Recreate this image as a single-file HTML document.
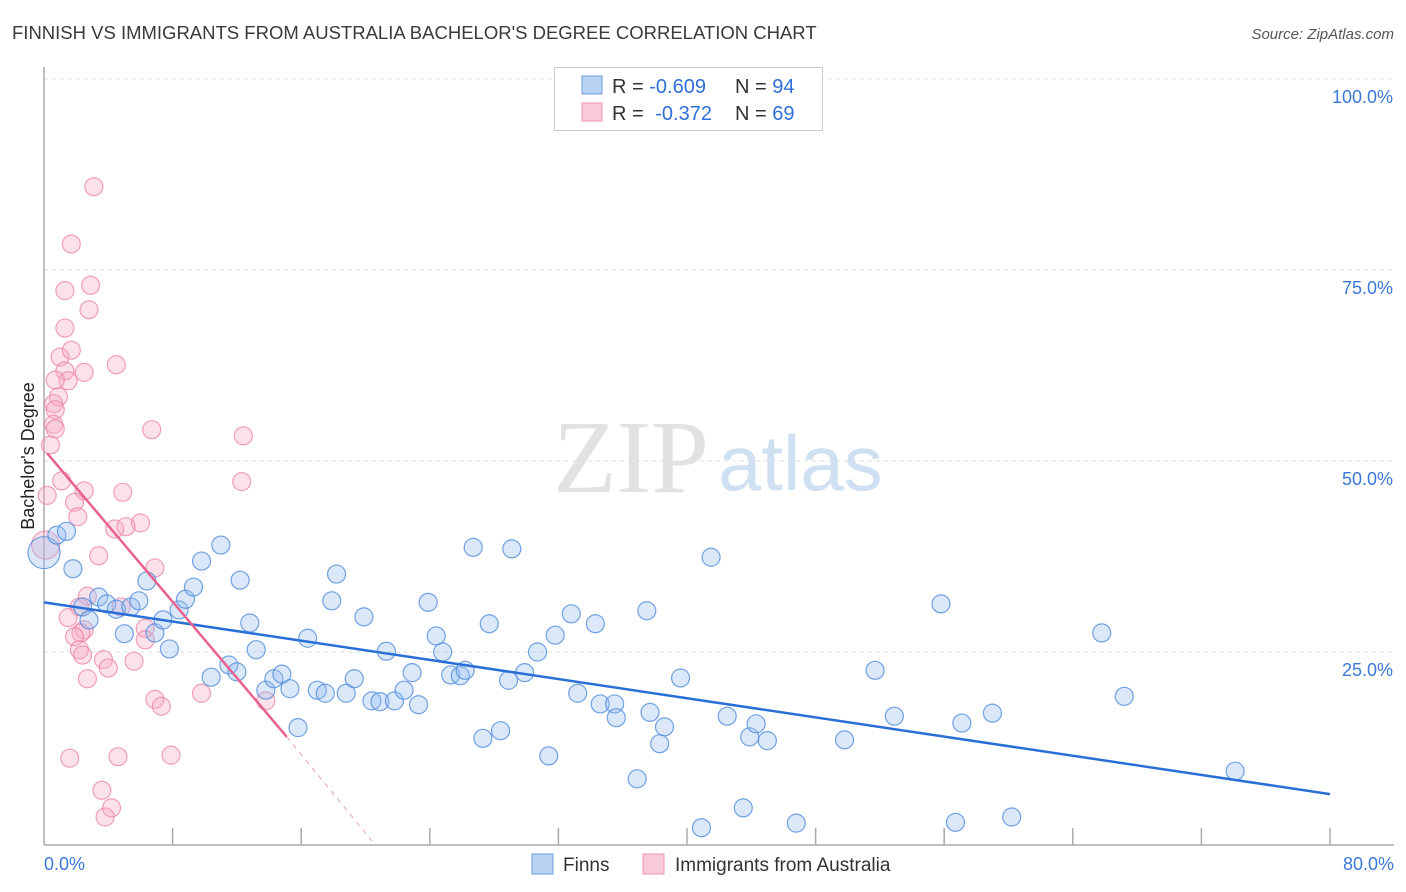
<!DOCTYPE html>
<html><head><meta charset="utf-8"><style>
body{margin:0;background:#fff;font-family:"Liberation Sans",sans-serif;}
svg{display:block}
</style></head><body>
<svg id="chart" width="1406" height="892">
<text x="12" y="39" font-size="18.5" fill="#3a3a3a">FINNISH VS IMMIGRANTS FROM AUSTRALIA BACHELOR'S DEGREE CORRELATION CHART</text>
<text x="1394" y="39" font-size="15" fill="#555" font-style="italic" text-anchor="end">Source: ZipAtlas.com</text>
<g>
<text x="553" y="492" font-size="104" font-family="Liberation Serif,serif" fill="#e2e2e2">ZIP</text>
<text x="718" y="490" font-size="78" fill="#cfe0f3">atlas</text>
</g>
<g id="grid"></g>
<g id="axes"></g>
<g id="marks"></g>
<text transform="translate(34,456) rotate(-90)" font-size="18" fill="#222" text-anchor="middle">Bachelor's Degree</text>
<g>
<rect x="554.5" y="67.5" width="268" height="63" fill="#fff" stroke="#ccc"/>
<rect x="582" y="76" width="20" height="18" fill="#b9d2f1" stroke="#6a9ee0"/>
<rect x="582" y="103" width="20" height="18" fill="#f8c9d7" stroke="#ee96b0"/>
<text x="612" y="93" font-size="20" fill="#333">R = <tspan fill="#2f6fd6">-0.609</tspan><tspan x="735">N = </tspan><tspan fill="#2f6fd6">94</tspan></text>
<text x="612" y="120" font-size="20" fill="#333">R = <tspan fill="#2f6fd6" dx="6">-0.372</tspan><tspan x="735">N = </tspan><tspan fill="#2f6fd6">69</tspan></text>
</g>
<g>
<rect x="532" y="854" width="21" height="20" fill="#b9d2f1" stroke="#6a9ee0"/>
<text x="563" y="871" font-size="19" fill="#333">Finns</text>
<rect x="643" y="854" width="21" height="20" fill="#f8c9d7" stroke="#ee96b0"/>
<text x="675" y="871" font-size="19" fill="#333">Immigrants from Australia</text>
</g>
</svg>
<script>
const xTicksLabels=["0.0%","80.0%"];
const yTickValues=[25,50,75,100];
const yTickLabels=["25.0%","50.0%","75.0%","100.0%"];
const finnsX=[0,0.8,1.4,1.8,2.4,2.8,3.4,3.9,4.5,5.0,5.4,5.9,6.4,6.9,7.4,7.8,8.4,8.8,9.3,9.8,10.4,11.0,11.5,12.0,12.2,12.8,13.2,13.8,14.3,14.8,15.3,15.8,16.4,17.0,17.5,17.9,18.2,18.8,19.3,19.9,20.4,20.9,21.3,21.8,22.4,22.9,23.3,23.9,24.4,24.8,25.3,25.9,26.2,26.7,27.3,27.7,28.4,28.9,29.1,29.9,30.7,31.4,31.8,32.8,33.2,34.3,34.6,35.5,35.6,36.9,37.5,37.7,38.3,38.6,39.6,40.9,41.5,42.5,43.5,43.9,44.3,45.0,46.8,49.8,51.7,52.9,55.8,56.7,57.1,59.0,60.2,65.8,67.2,74.1];
const finnsY=[38,40.3,40.8,35.9,30.9,29.2,32.2,31.3,30.6,27.4,30.9,31.7,34.3,27.5,29.2,25.4,30.5,31.9,33.5,36.9,21.7,39.0,23.3,22.4,34.4,28.8,25.3,20.0,21.5,22.1,20.2,15.1,26.8,20.0,19.6,31.7,35.2,19.6,21.5,29.6,18.6,18.5,25.1,18.6,20.0,22.3,18.1,31.5,27.1,25.0,22.0,21.9,22.6,38.7,13.7,28.7,14.7,21.3,38.5,22.3,25.0,11.4,27.2,30.0,19.6,28.7,18.2,18.2,16.4,8.4,30.4,17.1,13.0,15.2,21.6,2.0,37.4,16.6,4.6,13.9,15.6,13.4,2.6,13.5,22.6,16.6,31.3,2.7,15.7,17.0,3.4,27.5,19.2,9.4];
const ausX=[3.1,1.7,1.3,2.9,2.8,1.3,1.0,1.7,2.5,4.5,1.3,1.5,0.7,0.9,0.6,0.7,0.6,0.7,6.7,12.4,0.4,1.1,12.3,0.2,2.5,4.9,1.9,2.1,6.0,4.4,5.1,3.4,6.9,2.7,2.2,4.8,1.5,2.5,2.3,6.3,1.9,6.3,2.2,2.4,3.7,5.6,4.0,2.7,9.8,6.9,7.3,13.8,1.6,4.6,7.9,3.6,4.2,3.8,0.1];
const ausY=[85.9,78.4,72.3,73.0,69.8,67.4,63.6,64.5,61.6,62.6,61.8,60.5,60.6,58.4,57.5,56.7,54.8,54.2,54.1,53.3,52.1,47.4,47.3,45.5,46.1,45.9,44.6,42.7,41.9,41.1,41.4,37.6,36.0,32.3,30.9,30.9,29.5,27.9,27.5,28.1,27.0,26.6,25.3,24.6,24.0,23.8,22.9,21.5,19.6,18.8,17.9,18.6,11.1,11.3,11.5,6.9,4.6,3.4,39];
const finnsTrend=[0,31.5,80,6.4];
const ausTrend=[0.2,51.0,15.1,13.9,20.5,0];
const NS="http://www.w3.org/2000/svg";
const X=v=>44+v/80*1286, Y=v=>843-v*7.64;
function mk(tag,attrs,parent){const e=document.createElementNS(NS,tag);for(const k in attrs)e.setAttribute(k,attrs[k]);parent.appendChild(e);return e;}
const grid=document.getElementById('grid'),axes=document.getElementById('axes'),marks=document.getElementById('marks');
yTickValues.forEach((v,i)=>{
 const l=mk('line',{x1:44,x2:1394,y1:Y(v),y2:Y(v),stroke:'#ddd','stroke-dasharray':'4,4'},grid);
 
 
 const t=mk('text',{x:1393,y:Y(v)+24,'font-size':18,fill:'#3b78d8','text-anchor':'end'},axes);
 t.textContent=yTickLabels[i];
 
 
});
mk('line',{x1:44,x2:44,y1:67,y2:845,stroke:'#aaa','stroke-width':1.5},axes);
mk('line',{x1:44,x2:1394,y1:845,y2:845,stroke:'#aaa','stroke-width':1.5},axes);
for(let i=1;i<=10;i++){const t=mk('line',{x1:X(i*8),x2:X(i*8),y1:828,y2:845,stroke:'#aaa','stroke-width':1.5},axes);
 
 }
const xl0=mk('text',{x:44,y:870,'font-size':18,fill:'#3b78d8'},axes);xl0.textContent=xTicksLabels[0];


const xl1=mk('text',{x:1394,y:870,'font-size':18,fill:'#3b78d8','text-anchor':'end'},axes);xl1.textContent=xTicksLabels[1];


ausX.forEach((x,i)=>{const c=mk('circle',{cx:X(x),cy:Y(ausY[i]),r:i===ausX.length-1?14:9,fill:'rgba(246,170,195,0.35)',stroke:'rgba(236,130,165,0.75)','stroke-width':1.2},marks);
 
 });
finnsX.forEach((x,i)=>{const c=mk('circle',{cx:X(x),cy:Y(finnsY[i]),r:i===0?16:9,fill:'rgba(150,190,240,0.35)',stroke:'rgba(80,140,220,0.8)','stroke-width':1.2},marks);
 
 });
const bl=mk('line',{x1:X(finnsTrend[0]),y1:Y(finnsTrend[1]),x2:X(finnsTrend[2]),y2:Y(finnsTrend[3]),stroke:'#2a6fd6','stroke-width':2.5},marks);


const pl=mk('line',{x1:X(ausTrend[0]),y1:Y(ausTrend[1]),x2:X(ausTrend[2]),y2:Y(ausTrend[3]),stroke:'#e8628f','stroke-width':2.5},marks);


const pd=mk('line',{x1:X(ausTrend[2]),y1:Y(ausTrend[3]),x2:X(ausTrend[4]),y2:Y(ausTrend[5]),stroke:'#eaa0b8','stroke-width':1,'stroke-dasharray':'5,5'},marks);


</script>
</body></html>
